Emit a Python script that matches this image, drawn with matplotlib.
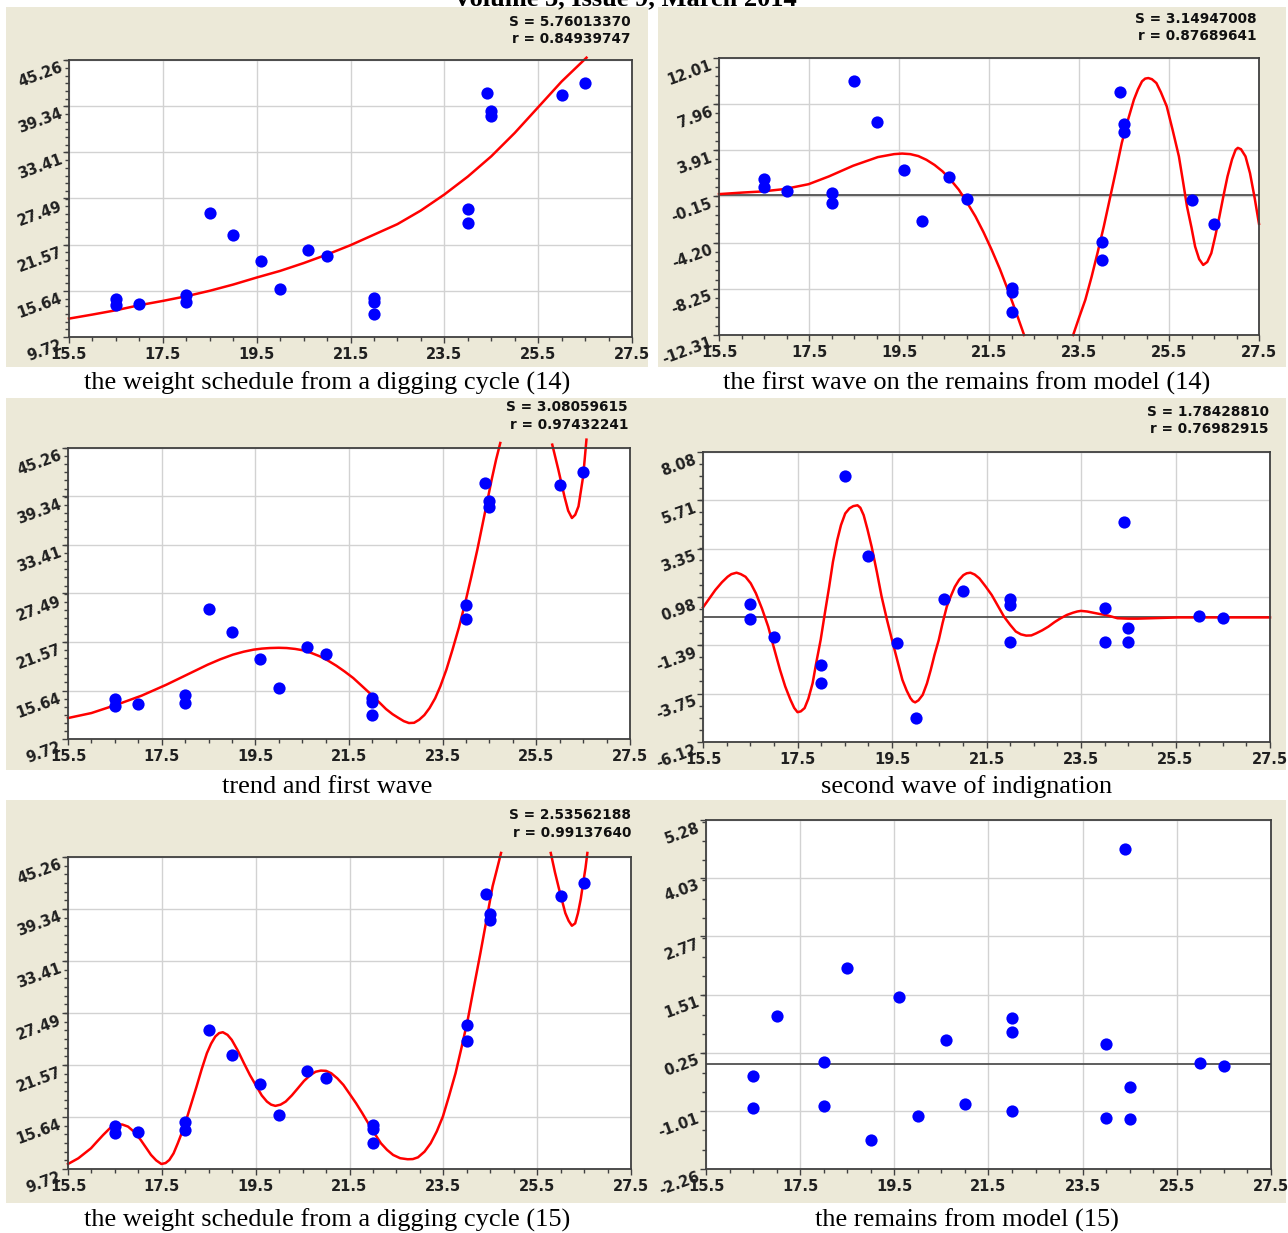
#!/usr/bin/env python3
"""Six-panel figure: digging-cycle weight, trend + waves, remains."""

import matplotlib
matplotlib.use("Agg")
import matplotlib.pyplot as plt
import numpy as np
from matplotlib.patches import Rectangle
from matplotlib.ticker import FixedLocator

NAN = np.nan

# ---------------- data ----------------
X_OBS = [16.5, 16.5, 17, 18, 18, 18.5, 19, 19.6, 20, 20.6, 21,
         22, 22, 22, 24, 24, 24.4, 24.5, 24.5, 26, 26.5]
Y_OBS = [14.6, 13.8, 13.95, 15.1, 14.15, 25.6, 22.75, 19.45, 15.9, 20.9, 20.05,
         14.7, 14.25, 12.7, 26.1, 24.35, 41.0, 38.75, 38.05, 40.8, 42.3]
RES_14 = [1.37, 0.67, 0.35, 0.2, -0.71, 10.02, 6.41, 2.14, -2.26, 1.52, -0.35,
          -8.21, -8.56, -10.26, -4.16, -5.69, 9.05, 6.24, 5.53, -0.44, -2.58]
RES_WAVE1 = [0.64, -0.11, -0.96, -2.34, -3.24, 6.91, 2.98, -1.25, -4.95, 0.9, 1.25,
             0.88, 0.6, -1.2, 0.42, -1.2, 4.66, -0.54, -1.2, 0.03, -0.07]
RES_15 = [-0.25, -0.95, 1.05, 0.05, -0.9, 2.09, -1.63, 1.45, -1.12, 0.53, -0.85,
          1.0, 0.7, -1.01, 0.44, -1.16, 4.65, -0.49, -1.19, 0.03, -0.03]

# model (14): trend
TREND_X = [15.5, 16.0, 16.5, 17.0, 17.5, 18.0, 18.5, 19.0, 19.5, 20.0, 20.5,
           21.0, 21.5, 22.0, 22.5, 23.0, 23.5, 24.0, 24.5, 25.0, 25.5, 26.0, 26.53]
TREND_Y = [12.08, 12.6, 13.15, 13.8, 14.35, 14.95, 15.65, 16.45, 17.35, 18.2, 19.2,
           20.3, 21.5, 22.85, 24.2, 25.95, 28.0, 30.3, 32.9, 35.9, 39.2, 42.5, 45.56]

# first wave on the remains of model (14)
WAVE1_X = [15.5, 16.04, 16.45, 16.95, 17.49, 17.94, 18.48, 19.03, 19.39, 19.57, 19.75,
           19.93, 20.11, 20.29, 20.47, 20.65, 20.83, 21.0, 21.2, 21.38, 21.56, 21.74,
           21.92, 22.1, 22.28, NAN,
           23.37, 23.5, 23.64, 23.78, 23.91, 24.05, 24.18, 24.32, 24.45, 24.59, 24.72,
           24.81, 24.9, 24.97, 25.04, 25.12, 25.22, 25.32, 25.45, 25.58, 25.72, 25.81,
           25.9, 26.0, 26.08, 26.17, 26.26, 26.35, 26.44, 26.53, 26.62, 26.71, 26.8,
           26.9, 26.98, 27.03, 27.1, 27.2, 27.3, 27.4, 27.5]
WAVE1_Y = [0.06, 0.2, 0.29, 0.5, 0.93, 1.61, 2.55, 3.31, 3.57, 3.62, 3.57,
           3.4, 3.07, 2.62, 2.05, 1.3, 0.44, -0.6, -1.91, -3.3, -4.84, -6.5,
           -8.35, -10.3, -12.31, NAN,
           -12.31, -10.8, -9.23, -7.2, -5.13, -2.8, -0.44, 2.1, 4.54, 6.6, 8.35,
           9.25, 9.96, 10.2, 10.25, 10.15, 9.81, 9.0, 7.76, 5.7, 3.37, 1.2,
           -1.03, -2.9, -4.54, -5.65, -6.16, -5.9, -5.13, -3.6, -1.91, -0.1, 1.61,
           3.1, 3.95, 4.12, 4.0, 3.37, 1.9, -0.2, -2.55]

# trend and first wave
TW_X = [15.5, 16.0, 16.54, 17.07, 17.6, 18.04, 18.48, 18.75, 19.02, 19.25, 19.46,
        19.64, 19.81, 20.0, 20.17, 20.35, 20.52, 20.7, 20.88, 21.05, 21.23, 21.41,
        21.59, 21.76, 21.94, 22.12, 22.29, 22.43, 22.56, 22.67, 22.78, 22.89, 23.0,
        23.11, 23.22, 23.34, 23.45, 23.58, 23.71, 23.85, 23.98, 24.11, 24.24, 24.35,
        24.46, 24.55, 24.64, 24.73, NAN,
        25.84, 25.97, 26.1, 26.18, 26.26, 26.33, 26.4, 26.5, 26.57]
TW_Y = [12.28, 12.89, 13.91, 15.01, 16.35, 17.57, 18.79, 19.45, 20.02, 20.38, 20.63,
        20.76, 20.83, 20.86, 20.83, 20.72, 20.55, 20.22, 19.81, 19.3, 18.67, 17.95,
        17.17, 16.28, 15.33, 14.34, 13.38, 12.75, 12.28, 11.9, 11.67, 11.7, 12.08,
        12.65, 13.5, 14.7, 16.15, 18.2, 20.63, 23.4, 26.33, 29.5, 32.84, 35.9,
        38.98, 41.5, 43.83, 45.87, NAN,
        45.67, 42.61, 39.35, 37.6, 36.71, 37.1, 38.13, 41.8, 46.28]

# second wave
WAVE2_X = [15.5, 15.76, 15.9, 16.02, 16.1, 16.21, 16.3, 16.4, 16.51, 16.62, 16.75,
           16.88, 17.0, 17.13, 17.24, 17.35, 17.43, 17.5, 17.57, 17.65, 17.73, 17.82,
           17.9, 17.99, 18.08, 18.17, 18.25, 18.34, 18.42, 18.51, 18.6, 18.68, 18.77,
           18.83, 18.9, 18.98, 19.07, 19.18, 19.28, 19.39, 19.5, 19.61, 19.72, 19.81,
           19.89, 19.94, 19.99, 20.06, 20.15, 20.24, 20.32, 20.4, 20.49, 20.57, 20.66,
           20.75, 20.83, 20.92, 21.01, 21.08, 21.16, 21.25, 21.35, 21.48, 21.61, 21.74,
           21.87, 22.0, 22.12, 22.23, 22.34, 22.45, 22.55, 22.68, 22.81, 22.94, 23.07,
           23.2, 23.33, 23.42, 23.5, 23.63, 23.76, 23.89, 24.02, 24.15, 24.27, 24.5,
           24.7, 25.13, 25.56, 27.5]
WAVE2_Y = [0.47, 1.32, 1.7, 1.97, 2.1, 2.17, 2.1, 1.97, 1.65, 1.16, 0.4,
           -0.47, -1.5, -2.59, -3.4, -4.05, -4.45, -4.66, -4.62, -4.46, -4.0, -3.24,
           -2.2, -1.12, 0.2, 1.48, 2.7, 3.76, 4.5, 5.07, 5.32, 5.43, 5.47,
           5.35, 4.99, 4.3, 3.44, 2.2, 1.0, -0.1, -1.12, -2.1, -3.08, -3.6,
           -3.97, -4.12, -4.18, -4.08, -3.81, -3.25, -2.59, -1.85, -1.12, -0.3, 0.51,
           1.05, 1.48, 1.82, 2.05, 2.14, 2.17, 2.08, 1.89, 1.5, 1.08, 0.55,
           0.02, -0.38, -0.71, -0.85, -0.91, -0.9, -0.8, -0.65, -0.47, -0.25, -0.06,
           0.1, 0.21, 0.27, 0.3, 0.27, 0.21, 0.15, 0.1, 0.02, -0.06, -0.08,
           -0.08, -0.05, -0.02, -0.02]

# model (15)
M15_X = [15.5, 15.72, 15.99, 16.12, 16.25, 16.4, 16.54, 16.66, 16.78, 16.92, 17.05,
         17.17, 17.27, 17.38, 17.49, 17.58, 17.66, 17.75, 17.84, 17.93, 18.02, 18.13,
         18.24, 18.35, 18.46, 18.55, 18.64, 18.72, 18.8, 18.9, 18.99, 19.12, 19.25,
         19.38, 19.52, 19.63, 19.74, 19.83, 19.92, 20.03, 20.14, 20.27, 20.4, 20.53,
         20.67, 20.78, 20.89, 21.0, 21.11, 21.24, 21.37, 21.5, 21.64, 21.77, 21.9,
         22.03, 22.17, 22.3, 22.43, 22.58, 22.74, 22.85, 22.96, 23.1, 23.23, 23.36,
         23.49, 23.62, 23.76, 23.89, 24.02, 24.15, 24.29, 24.42, 24.55, 24.64, 24.73,
         NAN,
         25.79, 25.88, 25.97, 26.04, 26.1, 26.17, 26.24, 26.31, 26.37, 26.43, 26.48,
         26.53, 26.57]
M15_Y = [10.29, 10.94, 12.08, 12.85, 13.6, 14.4, 14.82, 14.78, 14.55, 13.9, 13.03,
         12.1, 11.32, 10.7, 10.29, 10.4, 10.75, 11.5, 12.65, 13.9, 15.31, 17.2,
         19.11, 21.1, 22.91, 24.0, 24.81, 25.2, 25.3, 25.0, 24.43, 23.2, 21.77,
         20.4, 19.11, 18.1, 17.4, 17.05, 16.91, 17.05, 17.4, 18.1, 18.92, 19.75,
         20.44, 20.8, 20.93, 20.9, 20.63, 20.05, 19.3, 18.3, 17.21, 16.1, 14.93,
         13.8, 12.65, 11.9, 11.32, 10.95, 10.83, 10.85, 11.05, 11.7, 12.65, 14.0,
         15.69, 18.0, 20.63, 23.6, 26.71, 30.4, 34.31, 38.1, 41.92, 43.8, 45.72,
         NAN,
         45.72, 43.5, 41.54, 40.1, 38.87, 38.0, 37.43, 37.7, 38.87, 40.5, 42.3,
         44.0, 45.72]

X_TICKS = [15.5, 17.5, 19.5, 21.5, 23.5, 25.5, 27.5]
Y_TICKS_WEIGHT = [9.72, 15.64, 21.57, 27.49, 33.41, 39.34, 45.26]
Y_TICKS_WAVE1 = [-12.31, -8.25, -4.20, -0.15, 3.91, 7.96, 12.01]
Y_TICKS_WAVE2 = [-6.12, -3.75, -1.39, 0.98, 3.35, 5.71, 8.08]
Y_TICKS_RES15 = [-2.26, -1.01, 0.25, 1.51, 2.77, 4.03, 5.28]

CAPTIONS = [
    "the weight schedule from a digging cycle (14)",
    "the first wave on the remains from model (14)",
    "trend and first wave",
    "second wave of indignation",
    "the weight schedule from a digging cycle (15)",
    "the remains from model (15)",
]
STATS = [
    ("S = 5.76013370", "r = 0.84939747"),
    ("S = 3.14947008", "r = 0.87689641"),
    ("S = 3.08059615", "r = 0.97432241"),
    ("S = 1.78428810", "r = 0.76982915"),
    ("S = 2.53562188", "r = 0.99137640"),
    None,
]

W, H = 1288, 1233
BEIGE = "#ECE9D8"
DOT = "#0000FF"
LINE = "#FF0000"
AXC = "#404040"

fig = plt.figure(figsize=(W / 100, H / 100), dpi=100)
fig.patch.set_facecolor("white")


def fx(x):
    return x / W


def fy(y):
    return 1 - y / H


def beige(l, t, r, b):
    fig.add_artist(Rectangle((fx(l), fy(b)), (r - l) / W, (b - t) / H,
                             transform=fig.transFigure, color=BEIGE, zorder=-5, lw=0))


beige(6, 7, 648, 367)
beige(658, 7, 1286, 367)
beige(6, 398, 1286, 770)
beige(6, 800, 1286, 1203)

# running page header, cut by the top edge as in the scan
fig.text(fx(625), fy(5), "Volume 3, Issue 9, March 2014", ha="center", va="baseline",
         fontsize=19, fontweight="bold", family="Liberation Serif")


def make_panel(box, yticks, nminor, xs, ys, cx=None, cy=None, zero=False):
    l, t, r, b = box
    ax = fig.add_axes([fx(l), fy(b), (r - l) / W, (b - t) / H])
    ax.set_facecolor("white")
    ax.set_xlim(15.5, 27.5)
    ax.set_ylim(yticks[0], yticks[-1])
    ax.xaxis.set_major_locator(FixedLocator(X_TICKS))
    ax.xaxis.set_minor_locator(FixedLocator(np.arange(15.5, 27.51, 0.5)))
    ax.set_xticklabels([f"{v:.1f}" for v in X_TICKS])
    ax.yaxis.set_major_locator(FixedLocator(yticks))
    step = (yticks[1] - yticks[0]) / nminor
    ax.yaxis.set_minor_locator(FixedLocator(
        [yticks[0] + i * step for i in range(nminor * 6 + 1)]))
    ax.set_yticklabels([f"{v:.2f}" for v in yticks])
    ax.grid(True, which="major", color="#D2D2D2", lw=1.0)
    ax.set_axisbelow(True)
    for s in ax.spines.values():
        s.set_color(AXC)
        s.set_linewidth(1.3)
    ax.tick_params(which="major", direction="out", length=4.5, width=1.0, color=AXC,
                   labelsize=10.5)
    ax.tick_params(which="minor", direction="out", length=2.6, width=1.0, color=AXC)
    ax.tick_params(axis="x", pad=2.5)
    ax.tick_params(axis="y", pad=2.5)
    for lab in ax.get_xticklabels() + ax.get_yticklabels():
        lab.set_fontweight("bold")
        lab.set_family("DejaVu Sans")
        lab.set_color("#202020")
    for lab in ax.get_yticklabels():
        lab.set_rotation(20)
        lab.set_rotation_mode("anchor")
        lab.set_ha("right")
        lab.set_va("top")
    if zero:
        ax.axhline(0, color="#505050", lw=1.3, zorder=1.5)
    if cx is not None:
        ax.plot(cx, cy, color=LINE, lw=1.8, zorder=2, clip_on=False,
                solid_joinstyle="round")
    ax.plot(xs, ys, "o", color=DOT, ms=8.8, mec="none", zorder=3)
    return ax


make_panel((69, 60, 632, 337), Y_TICKS_WEIGHT, 6, X_OBS, Y_OBS, TREND_X, TREND_Y)
make_panel((719, 58, 1259, 335), Y_TICKS_WAVE1, 5, X_OBS, RES_14, WAVE1_X, WAVE1_Y, zero=True)
make_panel((68, 448, 630, 739), Y_TICKS_WEIGHT, 6, X_OBS, Y_OBS, TW_X, TW_Y)
make_panel((703, 452, 1270, 742), Y_TICKS_WAVE2, 4, X_OBS, RES_WAVE1, WAVE2_X, WAVE2_Y, zero=True)
make_panel((68, 857, 631, 1169), Y_TICKS_WEIGHT, 6, X_OBS, Y_OBS, M15_X, M15_Y)
make_panel((706, 820, 1271, 1169), Y_TICKS_RES15, 3, X_OBS, RES_15, zero=True)

# S / r annotations
stat_pos = [(631, 22, 39), (1257, 19, 36), (628, 407, 425),
            (1269, 412, 429), (631, 815, 833), None]
for st, pos in zip(STATS, stat_pos):
    if st is None:
        continue
    xr, y1, y2 = pos
    for txt, yy in zip(st, (y1, y2)):
        fig.text(fx(xr), fy(yy), txt, ha="right", va="center", fontsize=9.8,
                 fontweight="bold", family="DejaVu Sans", color="#101010")

cap_pos = [(327, 383), (967, 383), (327, 787), (967, 787), (327, 1220), (967, 1220)]
for cap, (cxp, cyp) in zip(CAPTIONS, cap_pos):
    fig.text(fx(cxp), fy(cyp), cap, ha="center", va="center", fontsize=19,
             family="Liberation Serif", color="black")

fig.savefig("out.png", dpi=100)
